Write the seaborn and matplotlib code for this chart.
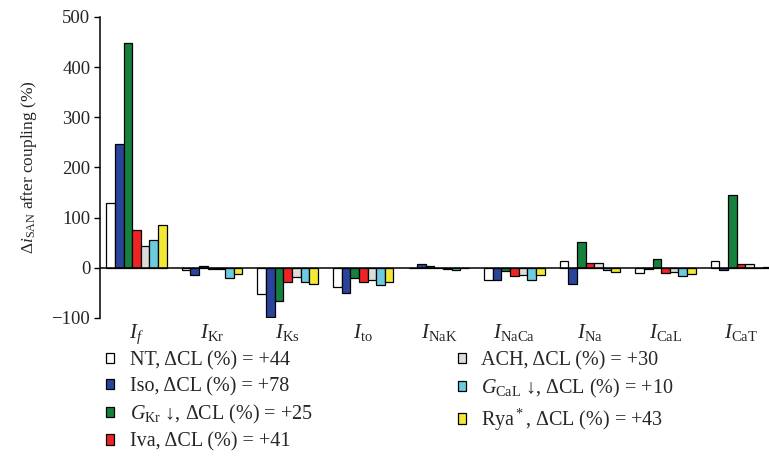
import numpy as np
import pandas as pd
import matplotlib
matplotlib.use("Agg")
import matplotlib.pyplot as plt
import seaborn as sns

# Ionic currents (x categories)
currents = [r"$I_f$", r"$I_{\rm Kr}$", r"$I_{\rm Ks}$", r"$I_{\rm to}$", r"$I_{\rm NaK}$",
            r"$I_{\rm NaCa}$", r"$I_{\rm Na}$", r"$I_{\rm CaL}$", r"$I_{\rm CaT}$"]

# Change in SAN current after coupling (%) for each condition
nt   = [129,  -4, -52, -38, -1, -24,  14, -11,  13]
iso  = [247, -14, -98, -51,  7, -24, -32,  -3,  -5]
gkr  = [449,   3, -66, -20,  3,  -7,  52,  17, 146]
iva  = [ 76,  -2, -29, -28, -1, -17,   9, -10,   8]
ach  = [ 44,  -2, -19, -24, -2, -15,  10,  -8,   7]
gcal = [ 56, -20, -28, -35, -4, -24,  -5, -16,  -1]
rya  = [ 86, -12, -33, -28,  0, -14,  -8, -13,   2]

conditions = ["NT, ΔCL (%) = +44",
              "Iso, ΔCL (%) = +78",
              r"$G_{\rm Kr}$ ↓, ΔCL (%) = +25",
              "Iva, ΔCL (%) = +41",
              "ACH, ΔCL (%) = +30",
              r"$G_{\rm CaL}$ ↓, ΔCL (%) = +10",
              r"Rya$^*$, ΔCL (%) = +43"]
colors = ["#ffffff", "#2a449c", "#16803f", "#ee2326", "#dcdcdc", "#6ccbe0", "#f2e835"]

series = [nt, iso, gkr, iva, ach, gcal, rya]
df = pd.DataFrame({
    "current": np.tile(currents, len(conditions)),
    "condition": np.repeat(conditions, len(currents)),
    "value": np.concatenate(series),
})

sns.set_style("white")
plt.rcParams["font.family"] = ["Liberation Serif", "DejaVu Serif"]
plt.rcParams["mathtext.fontset"] = "custom"
plt.rcParams["mathtext.rm"] = "Liberation Serif"
plt.rcParams["mathtext.it"] = "Liberation Serif:italic"
plt.rcParams["mathtext.bf"] = "Liberation Serif:bold"

fig = plt.figure(figsize=(7.69, 4.57), dpi=100)
ax = fig.add_axes([100 / 769, (457 - 318) / 457, 1 - 100 / 769, (318 - 17) / 457])

sns.barplot(data=df, x="current", y="value", hue="condition",
            order=currents, hue_order=conditions, palette=colors, saturation=1,
            edgecolor="black", linewidth=0.9, width=0.8, ax=ax)

ax.axhline(0, color="black", lw=1.1, zorder=5)
ax.set_ylim(-100, 500)
ax.set_xlim(-0.483, 8.37)
ax.set_yticks([-100, 0, 100, 200, 300, 400, 500])
ax.set_yticklabels(["\u2212100", "0", "100", "200", "300", "400", "500"])

for s in ["top", "right", "bottom"]:
    ax.spines[s].set_visible(False)
ax.spines["left"].set_color("black")
ax.spines["left"].set_linewidth(1.1)
ax.tick_params(axis="y", direction="out", length=4, width=1.0, color="black",
               labelsize=13.5, pad=3, left=True)
ax.tick_params(axis="x", length=0, labelsize=15, pad=3)

ax.set_xlabel("")
ax.set_ylabel(r"$\Delta i_{\rm SAN}$ after coupling (%)", fontsize=12.5, labelpad=9)

handles, labels = ax.get_legend_handles_labels()
ax.legend(handles, labels, ncol=2, loc="upper left",
          bbox_to_anchor=(106 / 769, 1 - 351 / 457), bbox_transform=fig.transFigure,
          frameon=False, fontsize=14.5, handlelength=0.42, handleheight=0.42,
          handletextpad=0.75, columnspacing=7.2, labelspacing=0.33,
          borderaxespad=0, borderpad=0)

fig.savefig("out.png", dpi=100)
